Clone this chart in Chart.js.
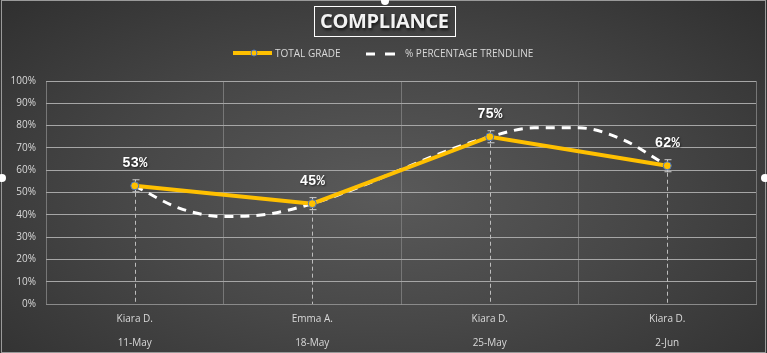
<!DOCTYPE html>
<html>
<head>
<meta charset="utf-8">
<script src="https://cdn.jsdelivr.net/npm/chart.js@4"></script>
<style>
  html, body { margin: 0; padding: 0; }
  body { width: 767px; height: 353px; overflow: hidden; }
  .grafico-container {
    position: relative; width: 767px; height: 353px;
    background: radial-gradient(ellipse 75% 85% at 50% 55%, #5a5a5a 0%, #474747 45%, #2c2c2c 100%);
  }
</style>
</head>
<body>
<div class="grafico-container"><canvas id="graficoCompliance" width="767" height="353"></canvas></div>
<script>
const nomes = ["Kiara D.", "Emma A.", "Kiara D.", "Kiara D."];
const datas = ["11-May", "18-May", "25-May", "2-Jun"];
const totalGrade = [53, 45, 75, 62];
const erroGrade = [2.7, 2.7, 2.7, 2.7];
// linha de tendência (posição x em categorias)
const tendenciaX = [0, 0.25, 0.5, 0.75, 1, 1.25, 1.5, 1.75, 2, 2.25, 2.5, 2.75, 3];
const tendenciaY = [53, 43, 39.2, 40.3, 45, 52, 60.3, 68.4, 75, 79, 79, 73.7, 62];
const yTicks = [0, 10, 20, 30, 40, 50, 60, 70, 80, 90, 100];

const laranja = "#FFC000";
const fonteRotulo = "bold 14px \"Liberation Mono\", \"DejaVu Sans Mono\", monospace";

const extras = {
    id: "extras",
    beforeDatasetsDraw(chart) {
        const ctx = chart.ctx;
        const meta = chart.getDatasetMeta(0);
        const y = chart.scales.y;
        ctx.save();
        // linhas de queda tracejadas
        ctx.strokeStyle = "#bdbdbd";
        ctx.lineWidth = 1;
        ctx.setLineDash([4, 3]);
        meta.data.forEach(function (p) {
            ctx.beginPath();
            ctx.moveTo(Math.round(p.x) + 0.5, p.y);
            ctx.lineTo(Math.round(p.x) + 0.5, y.bottom);
            ctx.stroke();
        });
        ctx.setLineDash([]);
        // barras de erro
        ctx.strokeStyle = "#d0d0d0";
        meta.data.forEach(function (p, i) {
            const top = y.getPixelForValue(totalGrade[i] + erroGrade[i]);
            const bot = y.getPixelForValue(totalGrade[i] - erroGrade[i]);
            const x = Math.round(p.x) + 0.5;
            ctx.beginPath();
            ctx.moveTo(x, top); ctx.lineTo(x, bot);
            ctx.moveTo(x - 3, top); ctx.lineTo(x + 4, top);
            ctx.moveTo(x - 3, bot); ctx.lineTo(x + 4, bot);
            ctx.stroke();
        });
        ctx.restore();
    },
    afterDatasetsDraw(chart) {
        const ctx = chart.ctx;
        const meta = chart.getDatasetMeta(0);
        ctx.save();
        ctx.font = fonteRotulo;
        ctx.fillStyle = "#ffffff";
        ctx.textAlign = "center";
        ctx.textBaseline = "middle";
        ctx.shadowColor = "rgba(0,0,0,0.6)";
        ctx.shadowOffsetX = 1; ctx.shadowOffsetY = 1; ctx.shadowBlur = 2;
        meta.data.forEach(function (p, i) {
            ctx.fillText(totalGrade[i] + "%", p.x, p.y - 22);
        });
        ctx.restore();
    },
    afterDraw(chart) {
        const ctx = chart.ctx;
        ctx.save();
        // título com caixa
        ctx.strokeStyle = "#ffffff";
        ctx.lineWidth = 1;
        ctx.strokeRect(314.5, 6.5, 141, 30);
        ctx.font = "bold 20px \"Open Sans\"";
        ctx.fillStyle = "#f2f2f2";
        ctx.textBaseline = "middle";
        ctx.shadowColor = "rgba(0,0,0,0.7)";
        ctx.shadowOffsetX = 1; ctx.shadowOffsetY = 2; ctx.shadowBlur = 3;
        const titulo = "COMPLIANCE";
        let larg = 0;
        for (const ch of titulo) larg += ctx.measureText(ch).width;
        const esp = (129 - larg) / (titulo.length - 1);
        let x = 320;
        for (const ch of titulo) {
            ctx.fillText(ch, x, 22);
            x += ctx.measureText(ch).width + esp;
        }
        ctx.shadowColor = "transparent";
        // legenda
        ctx.strokeStyle = laranja;
        ctx.lineWidth = 4;
        ctx.beginPath(); ctx.moveTo(233, 53); ctx.lineTo(272, 53); ctx.stroke();
        ctx.beginPath(); ctx.arc(254, 53, 3, 0, Math.PI * 2);
        ctx.fillStyle = laranja; ctx.fill();
        ctx.lineWidth = 1; ctx.strokeStyle = "#4472C4"; ctx.stroke();
        ctx.strokeStyle = "#ffffff";
        ctx.lineWidth = 3;
        ctx.beginPath(); ctx.moveTo(366, 54); ctx.lineTo(375, 54); ctx.stroke();
        ctx.beginPath(); ctx.moveTo(385, 54); ctx.lineTo(395, 54); ctx.stroke();
        ctx.font = "10px \"Open Sans\"";
        ctx.fillStyle = "#d9d9d9";
        ctx.fillText("TOTAL GRADE", 275, 54);
        ctx.fillText("% PERCENTAGE TRENDLINE", 405, 54);
        // alças de seleção
        ctx.strokeStyle = "#9a9a9a";
        ctx.lineWidth = 1;
        ctx.strokeRect(1.5, 0.5, 764, 352);
        ctx.fillStyle = "#ffffff";
        [[385, 1], [2, 178], [765, 178]].forEach(function (c) {
            ctx.beginPath(); ctx.arc(c[0], c[1], 4, 0, Math.PI * 2); ctx.fill();
        });
        ctx.restore();
    }
};

function desenharGrafico() {
    const canvas = document.getElementById("graficoCompliance");
    new Chart(canvas, {
        type: "line",
        data: {
            labels: nomes.map(function (n, i) { return [n, datas[i]]; }),
            datasets: [{
                label: "TOTAL GRADE",
                data: totalGrade,
                borderColor: laranja,
                borderWidth: 4,
                backgroundColor: laranja,
                pointBorderColor: "#4472C4",
                pointBorderWidth: 1,
                pointRadius: 4,
                tension: 0,
                order: 1
            }, {
                label: "% PERCENTAGE TRENDLINE",
                xAxisID: "xt",
                data: tendenciaX.map(function (x, i) { return { x: x, y: tendenciaY[i] }; }),
                borderColor: "#ffffff",
                borderWidth: 3,
                borderDash: [9, 7],
                pointRadius: 0,
                tension: 0.4,
                cubicInterpolationMode: "monotone",
                order: 2
            }]
        },
        options: {
            responsive: false,
            animation: false,
            layout: { padding: { top: 81, right: 11, left: 0, bottom: 0 } },
            plugins: { legend: { display: false }, title: { display: false }, tooltip: { enabled: false } },
            scales: {
                x: {
                    offset: true,
                    grid: { offset: true, color: "#777777", lineWidth: 1, drawTicks: false },
                    border: { color: "#8a8a8a" },
                    ticks: { color: "#d9d9d9", font: { family: "'Open Sans'", size: 10, lineHeight: 2.4 }, padding: 3, maxRotation: 0 },
                    afterFit: function (s) { s.height = 49; }
                },
                xt: {
                    type: "linear",
                    display: false,
                    min: -0.5,
                    max: 3.5
                },
                y: {
                    min: 0,
                    max: 100,
                    afterBuildTicks: function (s) { s.ticks = yTicks.map(function (v) { return { value: v }; }); },
                    grid: { color: "#a6a6a6", lineWidth: 1, drawTicks: false },
                    border: { display: false },
                    ticks: {
                        color: "#d9d9d9",
                        font: { family: "'Open Sans'", size: 10 },
                        padding: 10,
                        callback: function (v) { return v + "%"; }
                    },
                    afterFit: function (s) { s.width = 46; }
                }
            }
        },
        plugins: [extras]
    });
}

Promise.all([
    document.fonts.load(fonteRotulo, "53%"),
    document.fonts.load("bold 20px \"Open Sans\"", "COMPLIANCE"),
    document.fonts.load("10px \"Open Sans\"", "TOTAL")
]).then(desenharGrafico, desenharGrafico);
</script>
</body>
</html>
